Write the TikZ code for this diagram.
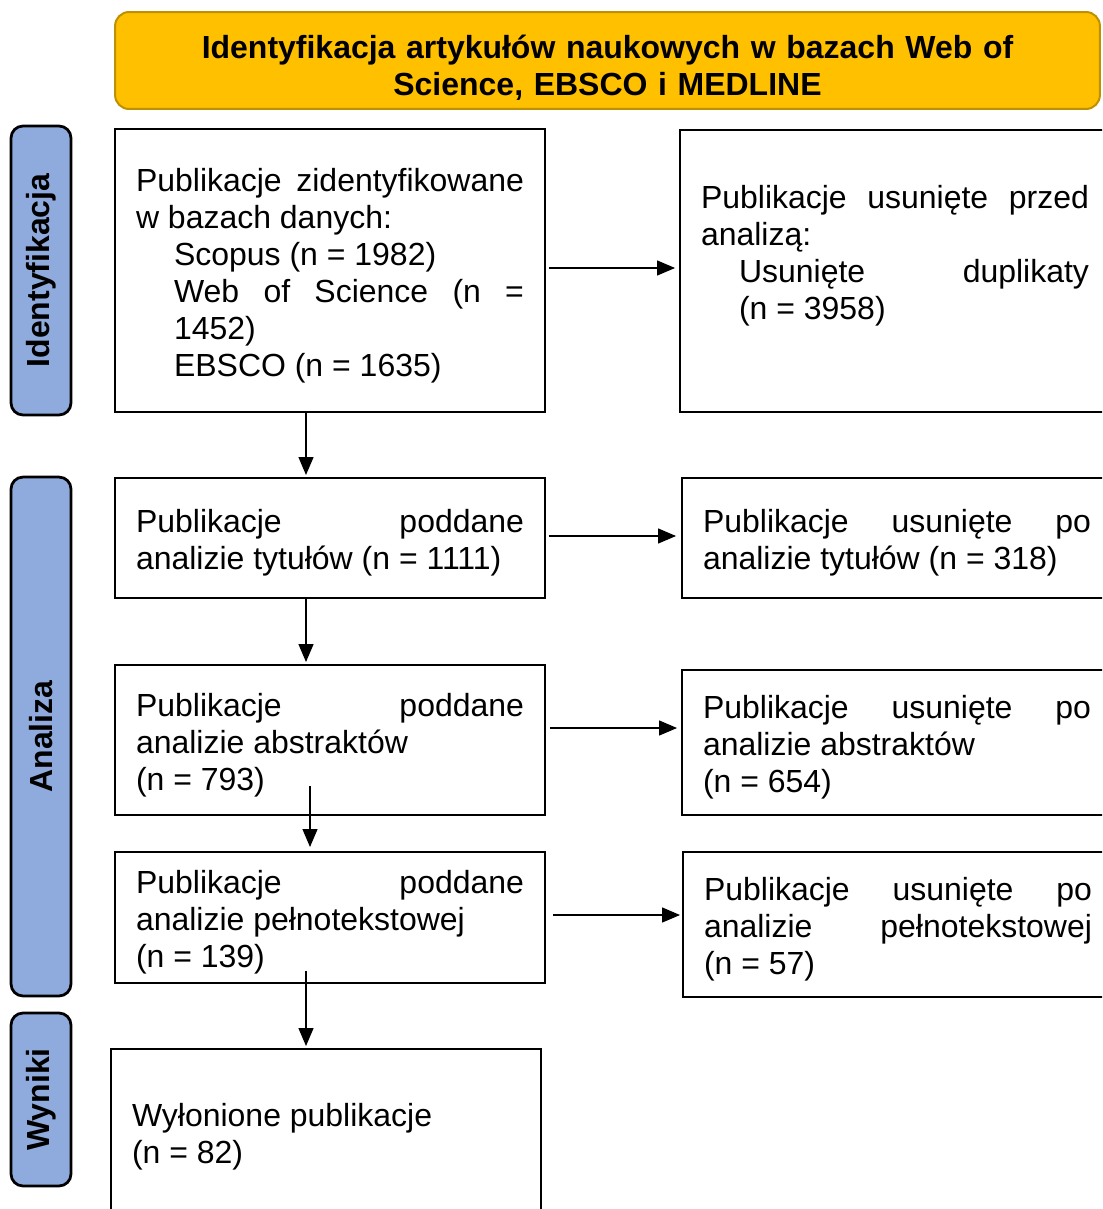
\documentclass[tikz,border=0pt]{standalone}
\usepackage{fontspec}
\setmainfont{Liberation Sans}
\usepackage{xcolor}
\usepackage{tikz}
\usetikzlibrary{calc}
\usetikzlibrary{arrows.meta}
\definecolor{zolty}{HTML}{FFC000}
\definecolor{zoltyramka}{HTML}{BF9000}
\definecolor{niebieski}{HTML}{8FAADC}
\setlength{\parindent}{0pt}
\tolerance=10000
\hyphenpenalty=10000

\begin{document}
\begin{tikzpicture}[x=0.02cm, y=-0.02cm,
        ramka/.style={draw, line width=0.04cm, rectangle, align=justify, text width=7.76cm, inner xsep=0.42cm, minimum width=8.6cm, font=\fontsize{18.2}{21.06}\selectfont},
        pudelko/.style={ramka, execute at begin node={\rule{0pt}{0.67cm}}},
        etap/.style={draw=black, fill=niebieski, line width=0.055cm, rounded corners=0.24cm, rotate=90, minimum height=1.2cm, font=\fontsize{18.2}{21.06}\selectfont\bfseries},
        strzalka/.style={line width=0.026cm, -{Triangle[length=0.36cm, width=0.3cm]}}]
        %RAMKA
        \useasboundingbox (0,0) rectangle (1102,1209);
        \clip (0,0) rectangle (1102,1209);
        %NAGLOWEK
        \node[draw=zoltyramka, fill=zolty, line width=0.04cm, rounded corners=0.28cm, minimum width=19.7cm, minimum height=1.94cm, text width=19cm, align=center, font=\fontsize{18.2}{21.06}\selectfont\bfseries, execute at begin node={\rule{0pt}{0.76cm}}] (head) at (607.5,60.5) {Identyfikacja artykułów naukowych w bazach Web of\\ Science, EBSCO i MEDLINE};
        %ETAPY
        \node[etap, minimum width=5.78cm] (e1) at (41,270.5) {Identyfikacja};
        \node[etap, minimum width=10.38cm] (e2) at (41,736.5) {Analiza};
        \node[etap, minimum width=3.46cm] (e3) at (41,1099.5) {Wyniki};
        %LEWA KOLUMNA
        \node[pudelko, minimum height=5.66cm] (b1) at (330,270.5) {Publikacje zidentyfikowane\linebreak w~bazach danych:\par
            \leftskip=0.76cm Scopus (n = 1982)\par
            Web of Science (n =\linebreak 1452)\par
            EBSCO (n = 1635)\par};
        \node[pudelko, minimum height=2.4cm] (b2) at (330,538) {Publikacje poddane\linebreak analizie tytułów (n = 1111)};
        \node[pudelko, minimum height=3cm] (b3) at (330,740) {Publikacje poddane\linebreak analizie abstraktów\\ (n = 793)};
        \node[pudelko, minimum height=2.62cm] (b4) at (330,917.5) {Publikacje poddane\linebreak analizie pełnotekstowej\\ (n = 139)};
        \node[pudelko, minimum height=3.32cm] (b5) at (326,1132) {Wyłonione publikacje\\ (n = 82)};
        %PRAWA KOLUMNA
        \node[ramka, minimum height=5.64cm] (r1) at (895,271) {Publikacje usunięte przed\linebreak analizą:\par
            \leftskip=0.76cm Usunięte duplikaty\linebreak (n = 3958)\par
            \mbox{}\par};
        \node[pudelko, minimum height=2.4cm] (r2) at (897,538) {Publikacje usunięte po\linebreak analizie tytułów (n = 318)};
        \node[pudelko, minimum height=2.9cm] (r3) at (897,742.5) {Publikacje usunięte po\linebreak analizie abstraktów\\ (n = 654)};
        \node[pudelko, minimum height=2.9cm] (r4) at (898,924.5) {Publikacje usunięte po\linebreak analizie pełnotekstowej\linebreak (n = 57)};
        %KOORDINAT
        \coordinate (h1) at ([yshift=0.05cm]b1.east);
        \coordinate (h2) at ([yshift=0.04cm]b2.east);
        \coordinate (h3) at ([yshift=0.24cm]b3.east);
        \coordinate (h4) at ([yshift=0.05cm]b4.east);
        \coordinate (v1) at ([xshift=-0.48cm]b1.south);
        \coordinate (v2) at ([xshift=-0.48cm]b2.south);
        \coordinate (v3) at ([xshift=-0.4cm, yshift=0.6cm]b3.south);
        \coordinate (v4) at ([xshift=-0.48cm, yshift=0.26cm]b4.south);
        %STRZALKI
        \draw[strzalka, shorten <=0.06cm, shorten >=0.08cm] (h1) -- (h1 -| r1.west);
        \draw[strzalka, shorten <=0.06cm, shorten >=0.1cm] (h2) -- (h2 -| r2.west);
        \draw[strzalka, shorten <=0.08cm, shorten >=0.08cm] (h3) -- (h3 -| r3.west);
        \draw[strzalka, shorten <=0.14cm, shorten >=0.04cm] (h4) -- (h4 -| r4.west);
        \draw[strzalka, shorten >=0.04cm] (v1) -- (v1 |- b2.north);
        \draw[strzalka, shorten >=0.04cm] (v2) -- (v2 |- b3.north);
        \draw[strzalka, shorten >=0.08cm] (v3) -- (v3 |- b4.north);
        \draw[strzalka, shorten >=0.04cm] (v4) -- (v4 |- b5.north);
\end{tikzpicture}
\end{document}
